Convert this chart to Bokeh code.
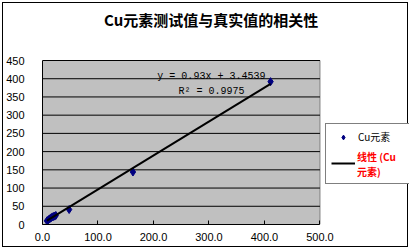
from bokeh.plotting import figure
from bokeh.models import Range1d, Label, Legend, LegendItem, FixedTicker, NumeralTickFormatter
from bokeh.embed import file_html
from bokeh.resources import INLINE

title_text = "Cu元素测试值与真实值的相关性"
series_name = "Cu元素"
trend_name = "线性 (Cu\n元素)"
true_vals = [8, 10, 12, 14, 16, 18, 20, 22, 24, 48, 163, 411]
meas_vals = [10, 12, 15, 17, 19, 21, 22, 23, 25, 41, 144, 392]
slope = 0.93
intercept = 3.4539
r2 = 0.9975
x_ticks = [0, 100, 200, 300, 400, 500]
y_ticks = [0, 50, 100, 150, 200, 250, 300, 350, 400, 450]
x_max = 500
y_max = 450

# frame spans the whole chart; the grey plot area is drawn from the data ranges
W, H = 406, 245
LEFT, BOTTOM = 33, 24
fw, fh = W - LEFT, H - BOTTOM
px_x = 282 / x_max          # pixels per x unit in the plot area
px_y = 164 / y_max          # pixels per y unit in the plot area

p = figure(width=W, height=H, x_range=Range1d(0, fw / px_x), y_range=Range1d(0, fh / px_y),
           output_backend="svg", toolbar_location=None,
           min_border_left=LEFT, min_border_right=0, min_border_top=0, min_border_bottom=BOTTOM,
           background_fill_color="white", border_fill_color="white",
           outline_line_color=None,
           styles={"border": "1px solid black", "margin-left": "2px", "margin-top": "2px"})

# plot area
p.quad(left=[0], right=[x_max], bottom=[0], top=[y_max], fill_color="#C0C0C0",
       line_color="#808080", line_width=1)
p.segment(x0=[0] * len(y_ticks[1:]), x1=[x_max] * len(y_ticks[1:]), y0=y_ticks[1:], y1=y_ticks[1:],
          line_color="black", line_width=1)

# axes
p.xaxis.ticker = FixedTicker(ticks=x_ticks)
p.xaxis.formatter = NumeralTickFormatter(format="0.0")
p.yaxis.ticker = FixedTicker(ticks=y_ticks)
p.xaxis.bounds = (0, x_max)
p.yaxis.bounds = (0, y_max)
for ax in (p.xaxis[0], p.yaxis[0]):
    ax.axis_line_color = "black"
    ax.major_tick_line_color = "black"
    ax.minor_tick_line_color = None
    ax.major_label_text_font = "Liberation Sans"
    ax.major_label_text_font_size = "11px"
    ax.major_label_text_color = "black"
p.xaxis.major_tick_in = 4
p.xaxis.major_tick_out = 0
p.xaxis.major_label_standoff = 8
p.yaxis.major_tick_in = 0
p.yaxis.major_tick_out = 0
p.yaxis.major_label_standoff = 18
p.xgrid.visible = False
p.ygrid.visible = False

# data
sc = p.scatter(true_vals, meas_vals, marker="diamond", size=8, color="#000080")
x0, x1 = min(true_vals), max(true_vals)
ln = p.line([x0, x1], [slope * x0 + intercept, slope * x1 + intercept], line_color="black", line_width=2)
dummy = p.line([x0, x1], [0, 0], line_alpha=0)

# equation
eq_font = "Liberation Mono"
p.add_layout(Label(x=207, y=406, text="y = %sx + %s" % (slope, intercept), text_font=eq_font,
                   text_font_size="10px", text_baseline="middle", text_align="left", text_color="black"))
p.add_layout(Label(x=245, y=365, text="R² = %s" % r2, text_font=eq_font,
                   text_font_size="10px", text_baseline="middle", text_align="left", text_color="black"))

# title
p.add_layout(Label(x=304, y=562, text=title_text,
                   text_font="Noto Sans CJK SC", text_font_size="15px", text_font_style="bold",
                   text_align="center", text_baseline="middle", text_color="black"))

# legend
common = dict(location=(283, 40), padding=5, spacing=4, glyph_width=24, glyph_height=12,
              label_standoff=3, label_width=52, label_height=12, margin=0,
              label_text_font="Noto Sans CJK SC", label_text_font_size="10px")
legA = Legend(items=[LegendItem(label=series_name, renderers=[sc]),
                     LegendItem(label="\u3000\u3000\n\u3000", renderers=[ln])],
              border_line_color="black", border_line_width=1, background_fill_color="white",
              background_fill_alpha=1, label_text_color="black", **common)
legB = Legend(items=[LegendItem(label=trend_name, renderers=[dummy])],
              border_line_alpha=0, background_fill_alpha=0, label_text_color="red",
              label_text_font_style="bold", **common)
p.add_layout(legA)
p.add_layout(legB)

open("out.html", "w").write(file_html(p, INLINE))
